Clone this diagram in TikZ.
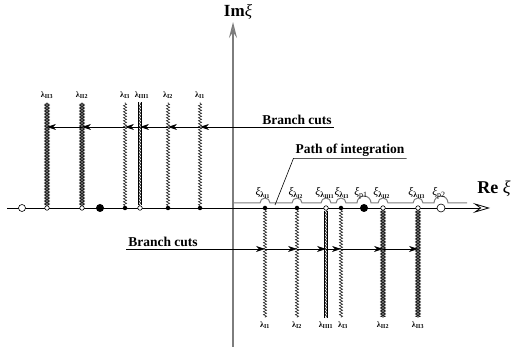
\documentclass[tikz,border=0pt]{standalone}
\usepackage{fontspec}
\setmainfont{Liberation Serif}
\usepackage{xcolor}
\definecolor{ax-gray}{RGB}{125,125,125}
\usepackage{tikz}
\usetikzlibrary{arrows.meta,decorations.pathmorphing}
\newcommand{\lamlab}[1]{\textbf{λ}\textsubscript{\textbf{#1}}}
\newcommand{\xilab}[1]{\textit{ξ}\textsubscript{#1}}

\begin{document}
\begin{tikzpicture}[x=1pt,y=1pt,
    dotf/.style={circle,fill,inner sep=0pt,minimum size=4.5pt},
    doto/.style={circle,draw,fill=white,line width=0.6pt,inner sep=0pt,minimum size=4.5pt},
    bigf/.style={dotf,minimum size=8pt},
    bigo/.style={doto,minimum size=8pt},
    lamlabel/.style={font=\fontsize{8}{9}\selectfont,inner sep=1pt,outer ysep=3pt},
    xilabel/.style={font=\fontsize{11.5}{12}\selectfont,inner sep=0pt},
    textlabel/.style={font=\fontsize{13.5}{15}\selectfont\bfseries,inner sep=2pt},
    cutI/.style={draw=none,postaction={draw,line width=0.5pt,decorate,decoration={zigzag,segment length=3pt,amplitude=1.6pt}}},
    cutII/.style={draw=none,postaction={draw,line width=0.45pt,decorate,decoration={zigzag,segment length=3pt,amplitude=2.3pt}},postaction={draw,line width=0.45pt,decorate,decoration={zigzag,segment length=3pt,amplitude=2.3pt,mirror}}},
    cutIII/.style={draw=none,postaction={draw,line width=0.4pt,decorate,decoration={zigzag,segment length=3pt,amplitude=1.5pt}},postaction={draw,line width=0.45pt,transform canvas={xshift=1.6pt}},postaction={draw,line width=0.45pt,transform canvas={xshift=-1.6pt}}},
    bcarrow/.style={-{Stealth[length=9pt,width=6pt]},line width=0.6pt}]
    \useasboundingbox (0,0) rectangle (513,347);

    \coordinate (imB) at (233,0);
    \coordinate (imT) at (233,325);
    \draw[ax-gray,line width=1.4pt,-{Stealth[open,length=16pt,width=8pt,inset=6pt]}] (imB) -- (imT);
    \node[font=\fontsize{17}{19}\selectfont\bfseries] (imlab) at (238,335) {Im\textit{\mdseries ξ}};

    \coordinate (reL) at (7,139);
    \coordinate (reR) at (490,139);
    \draw[line width=0.8pt,-{Stealth[open,length=17pt,width=10pt,inset=7pt]}] (reL) -- (reR);
    \node[font=\fontsize{18}{20}\selectfont\bfseries] (relab) at (494,158) {Re \textit{\mdseries ξ}};

    \draw[ax-gray,line width=1pt] (233,144) -- (260,144) arc[start angle=180,end angle=0,radius=5]
        -- (292,144) arc[start angle=180,end angle=0,radius=5]
        -- (321,144) arc[start angle=180,end angle=0,radius=5]
        -- (336,144) arc[start angle=180,end angle=0,radius=5]
        -- (357,144) arc[start angle=180,end angle=0,radius=7]
        -- (378,144) arc[start angle=180,end angle=0,radius=5]
        -- (413,144) arc[start angle=180,end angle=0,radius=5]
        -- (434,144) arc[start angle=180,end angle=0,radius=7] -- (467,144);

    \node[doto,minimum size=7pt] (lp2) at (22,139) {};
    \node[doto] (lII3) at (47,139) {};
    \node[doto] (lII2) at (82,139) {};
    \node[bigf] (lp1) at (100,139) {};
    \node[dotf] (lI3) at (125,139) {};
    \node[doto] (lIII1) at (140,139) {};
    \node[dotf] (lI2) at (168,139) {};
    \node[dotf] (lI1) at (200,139) {};

    \node[lamlabel] (tII3) at (47,252) {\lamlab{II3}};
    \node[lamlabel] (tII2) at (82,252) {\lamlab{II2}};
    \node[lamlabel] (tI3) at (125,252) {\lamlab{I3}};
    \node[lamlabel] (tIII1) at (142,252) {\lamlab{III1}};
    \node[lamlabel] (tI2) at (168,252) {\lamlab{I2}};
    \node[lamlabel] (tI1) at (200,252) {\lamlab{I1}};

    \path[cutII] (lII3) -- (lII3 |- tII3.south);
    \path[cutII] (lII2) -- (lII2 |- tII2.south);
    \path[cutI] (lI3) -- (lI3 |- tI3.south);
    \path[cutIII] (lIII1) -- (lIII1 |- tIII1.south);
    \path[cutI] (lI2) -- (lI2 |- tI2.south);
    \path[cutI] (lI1) -- (lI1 |- tI1.south);

    \node[dotf] (rI1) at (265,139) {};
    \node[dotf] (rI2) at (297,139) {};
    \node[doto] (rIII1) at (326,139) {};
    \node[dotf] (rI3) at (341,139) {};
    \node[bigf] (rp1) at (364,139) {};
    \node[doto] (rII2) at (383,139) {};
    \node[doto] (rII3) at (418,139) {};
    \node[bigo] (rp2) at (441,139) {};

    \node[lamlabel] (bI1) at (265,22) {\lamlab{I1}};
    \node[lamlabel] (bI2) at (297,22) {\lamlab{I2}};
    \node[lamlabel] (bIII1) at (326,22) {\lamlab{III1}};
    \node[lamlabel] (bI3) at (343,22) {\lamlab{I3}};
    \node[lamlabel] (bII2) at (383,22) {\lamlab{II2}};
    \node[lamlabel] (bII3) at (418,22) {\lamlab{II3}};

    \path[cutI] (rI1) -- (rI1 |- bI1.north);
    \path[cutI] (rI2) -- (rI2 |- bI2.north);
    \path[cutIII] (rIII1) -- (rIII1 |- bIII1.north);
    \path[cutI] (rI3) -- (rI3 |- bI3.north);
    \path[cutII] (rII2) -- (rII2 |- bII2.north);
    \path[cutII] (rII3) -- (rII3 |- bII3.north);

    \node[xilabel] (xI1) at (263,154) {\xilab{\lamlab{I1}}};
    \node[xilabel] (xI2) at (296,154) {\xilab{\lamlab{I2}}};
    \node[xilabel] (xIII1) at (325,154) {\xilab{\lamlab{III1}}};
    \node[xilabel] (xI3) at (342,154) {\xilab{\lamlab{I3}}};
    \node[xilabel] (xp1) at (361,154) {\xilab{p1}};
    \node[xilabel] (xII2) at (382,154) {\xilab{\lamlab{II2}}};
    \node[xilabel] (xII3) at (417,154) {\xilab{\lamlab{II3}}};
    \node[xilabel] (xp2) at (439,154) {\xilab{p2}};

    \node[textlabel] (bcU) at (297,227) {Branch cuts};
    \coordinate (bcUs) at (bcU.south east);
    \draw[bcarrow] (bcUs) -- (lI1 |- bcUs);
    \draw[bcarrow] (lI1 |- bcUs) -- (lI2 |- bcUs);
    \draw[bcarrow] (lI2 |- bcUs) -- (lIII1 |- bcUs);
    \draw[bcarrow] (lIII1 |- bcUs) -- (lI3 |- bcUs);
    \draw[bcarrow] (lI3 |- bcUs) -- (lII2 |- bcUs);
    \draw[bcarrow] (lII2 |- bcUs) -- (lII3 |- bcUs);

    \node[textlabel] (bcD) at (163,105) {Branch cuts};
    \coordinate (bcDs) at (bcD.south west);
    \draw[bcarrow] (bcDs) -- (rI1 |- bcDs);
    \draw[bcarrow] (rI1 |- bcDs) -- (rI2 |- bcDs);
    \draw[bcarrow] (rI2 |- bcDs) -- (rIII1 |- bcDs);
    \draw[bcarrow] (rIII1 |- bcDs) -- (rI3 |- bcDs);
    \draw[bcarrow] (rI3 |- bcDs) -- (rII2 |- bcDs);
    \draw[bcarrow] (rII2 |- bcDs) -- (rII3 |- bcDs);

    \node[textlabel] (poi) at (350,197) {Path of integration};
    \coordinate (poiE) at (275,142);
    \draw[line width=0.6pt] (poi.south east) -- (poi.south west) -- (poiE);
\end{tikzpicture}
\end{document}
